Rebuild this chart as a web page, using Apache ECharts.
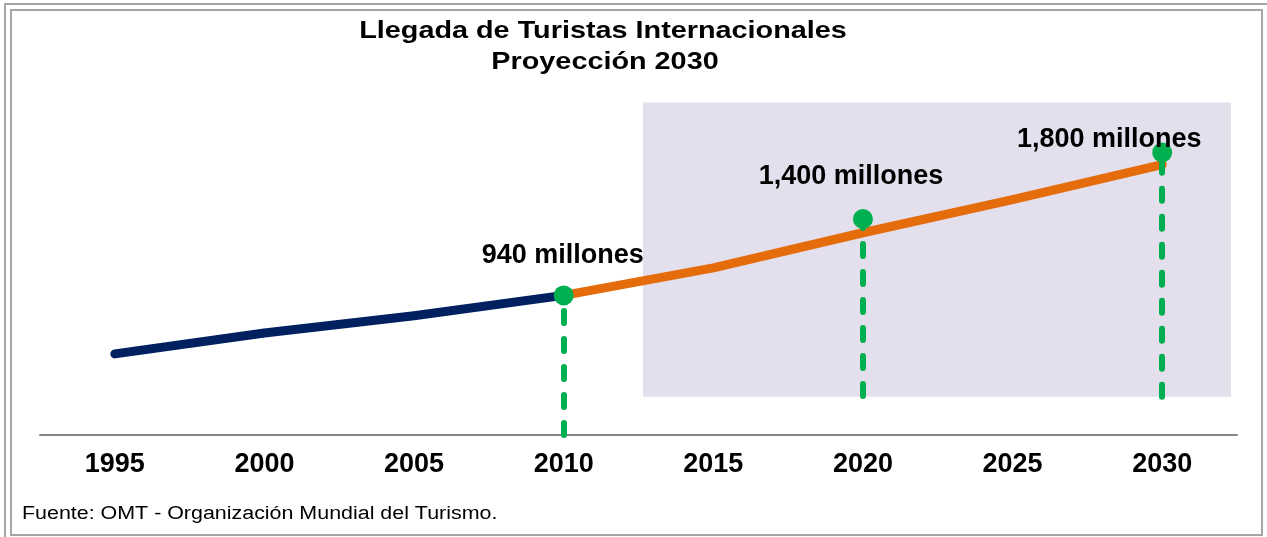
<!DOCTYPE html>
<html lang="es">
<head>
    <meta charset="UTF-8">
    <title>Llegada de Turistas Internacionales</title>
    <script src="https://cdn.jsdelivr.net/npm/echarts@6/dist/echarts.min.js"></script>
    <style>
        html, body { margin: 0; padding: 0; background: #fff; }
        #main { width: 1267px; height: 537px; }
    </style>
</head>
<body>
<div id="main"></div>
<script>
    // datos (millones de llegadas)
    var years = ['1995', '2000', '2005', '2010', '2015', '2020', '2025', '2030'];
    var historico = [588, 714, 817, 940, null, null, null, null];
    var proyeccion = [null, null, null, 940, 1106, 1317, 1516, 1727];
    var hitosAnio = ['2010', '2020', '2030'];
    var hitosValor = [940, 1400, 1800];
    var hitosTexto = ['940 millones', '1,400 millones', '1,800 millones'];
    var hitosFin = [100, 335, 330];
    // zona sombreada de la proyección (años, millones)
    var zonaAnios = [2012.65, 2032.3];
    var zonaValores = [2100, 330];

    var labelOffsets = [[-1, -40], [-12, -42], [-53, -13]];
    var font = '"Liberation Sans", Arial, sans-serif';

    var puntos = hitosAnio.map(function (a, i) {
        return {
            value: [a, hitosValor[i]],
            label: { offset: labelOffsets[i], formatter: hitosTexto[i] }
        };
    });
    // líneas verticales punteadas, dibujadas de abajo hacia el punto
    var caidas = hitosAnio.map(function (a, i) {
        return [{ coord: [a, hitosFin[i]] }, { coord: [a, hitosValor[i]] }];
    });

    var myChart = echarts.init(document.getElementById('main'));
    myChart.setOption({
        animation: false,
        backgroundColor: '#ffffff',
        grid: { left: 40, right: 30, top: 86, bottom: 102 },
        xAxis: [{
            type: 'category',
            data: years,
            boundaryGap: true,
            axisLine: { lineStyle: { color: '#868686', width: 2 } },
            axisTick: { show: false },
            axisLabel: { color: '#000', fontSize: 27, fontWeight: 'bold', fontFamily: font, margin: 16 },
            splitLine: { show: false }
        }, {
            type: 'value',
            min: 1992.5,
            max: 2032.5,
            show: false,
            splitLine: { show: false }
        }],
        yAxis: {
            type: 'value',
            min: 100,
            max: 2200,
            show: false,
            splitLine: { show: false }
        },
        graphic: [
            { type: 'rect', shape: { x: 5, y: 4, width: 1300, height: 600 },
              style: { fill: null, stroke: '#a6a6a6', lineWidth: 2 }, silent: true },
            { type: 'rect', shape: { x: 11, y: 10, width: 1251, height: 525 },
              style: { fill: null, stroke: '#a6a6a6', lineWidth: 2 }, silent: true },
            { type: 'text', x: 603, y: 31, scaleX: 1.2,
              style: { text: 'Llegada de Turistas Internacionales', textAlign: 'center', textVerticalAlign: 'middle',
                       fontSize: 24, fontWeight: 'bold', fontFamily: font, fill: '#000' } },
            { type: 'text', x: 605, y: 62, scaleX: 1.2,
              style: { text: 'Proyección 2030', textAlign: 'center', textVerticalAlign: 'middle',
                       fontSize: 24, fontWeight: 'bold', fontFamily: font, fill: '#000' } },
            { type: 'text', x: 22, y: 514, scaleX: 1.19,
              style: { text: 'Fuente: OMT - Organización Mundial del Turismo.', textAlign: 'left', textVerticalAlign: 'middle',
                       fontSize: 18, fontFamily: font, fill: '#000' } }
        ],
        series: [{
            name: 'zona',
            type: 'line',
            xAxisIndex: 1,
            data: [],
            z: 0,
            markArea: {
                silent: true,
                itemStyle: { color: '#e4dfec' },
                data: [[
                    { coord: [zonaAnios[0], zonaValores[0]] },
                    { coord: [zonaAnios[1], zonaValores[1]] }
                ]]
            }
        }, {
            name: 'Histórico',
            type: 'line',
            data: historico,
            showSymbol: false,
            symbol: 'none',
            z: 3,
            lineStyle: { color: '#002060', width: 9, cap: 'round', join: 'round' }
        }, {
            name: 'Proyección',
            type: 'line',
            data: proyeccion,
            showSymbol: false,
            symbol: 'none',
            z: 3,
            lineStyle: { color: '#e46c0a', width: 9, cap: 'round', join: 'round' },
            markLine: {
                silent: true,
                symbol: 'none',
                label: { show: false },
                lineStyle: { color: '#00b050', width: 6, type: [12, 16], cap: 'round', opacity: 1 },
                data: caidas
            }
        }, {
            name: 'Hitos',
            type: 'scatter',
            data: puntos,
            symbol: 'circle',
            symbolSize: 20,
            z: 5,
            itemStyle: { color: '#00b050', opacity: 1 },
            label: {
                show: true,
                position: 'inside',
                color: '#000000',
                opacity: 1,
                fontSize: 27,
                fontWeight: 'bold',
                fontFamily: font
            }
        }]
    });
</script>
</body>
</html>
